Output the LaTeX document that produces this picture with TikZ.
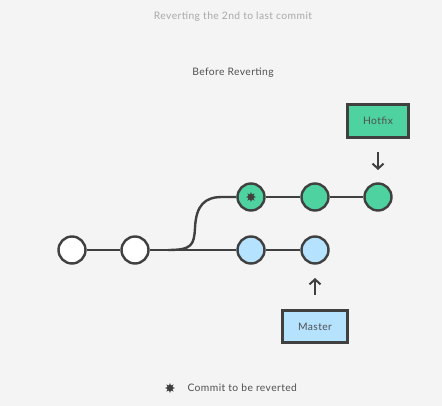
\documentclass[tikz,border=0pt]{standalone}
\usepackage{fontspec}
\setmainfont{Lato}[LetterSpace=4]
\usetikzlibrary{shapes.geometric,arrows.meta}
\definecolor{bg}{HTML}{F4F4F4}
\definecolor{ink}{HTML}{404040}
\definecolor{txt}{HTML}{505050}
\definecolor{grn}{HTML}{4DD2A0}
\definecolor{blu}{HTML}{B5E2FF}
\definecolor{ttl}{HTML}{A8A8A8}
\begin{document}
\begin{tikzpicture}[x=1pt,y=-1pt,
  commit/.style={circle,draw=ink,line width=2.4pt,minimum size=27pt,inner sep=0pt},
  wcommit/.style={commit,fill=white},
  gcommit/.style={commit,fill=grn},
  bcommit/.style={commit,fill=blu},
  edge/.style={draw=ink,line width=2.4pt},
  ref/.style={draw=ink,line width=2.4pt,minimum width=60pt,minimum height=31pt,inner sep=0pt,font=\fontsize{10.3}{12}\selectfont,text=txt},
  pointer/.style={draw=ink,line width=2pt,-{Straight Barb[length=5pt,width=11pt,line width=2pt]}},
  lbl/.style={font=\fontsize{10.3}{12}\selectfont,text=txt}]
\fill[bg] (0,0) rectangle (442,406);
\useasboundingbox (0,0) rectangle (442,406);
\node[font=\fontsize{10.3}{12}\selectfont,text=ttl] (title) at (233,17) {Reverting the 2nd to last commit};
\node[lbl] (before) at (233,73) {Before Reverting};
% commits
\node[wcommit] (c1) at (72,250) {};
\node[wcommit] (c2) at (135,250) {};
\node[bcommit] (b1) at (251,250) {};
\node[bcommit] (b2) at (315,250) {};
\node[gcommit] (g1) at (251,197) {};
\node[gcommit] (g2) at (315,197) {};
\node[gcommit] (g3) at (378,197) {};
\coordinate (fork) at (168,250);
\coordinate (join) at (222,197);
\path[edge] (c1) -- (c2);
\path[edge] (c2) -- (b1);
\path[edge] (b1) -- (b2);
\path[edge] (g1) -- (g2);
\path[edge] (g2) -- (g3);
\path[edge] (fork) .. controls (192,250) and (194,245) .. (195,228) .. controls (196,205) and (205,197) .. (join) -- (g1);
% asterisk in g1
\node[star,star points=8,star point ratio=1.9,fill=ink,minimum size=10pt,inner sep=0pt] (ast) at (251,197) {};
% refs
\node[ref,fill=grn,minimum width=61pt,minimum height=33pt] (hotfix) at (378,121) {Hotfix};
\node[ref,fill=blu,minimum width=65pt,minimum height=32pt] (master) at (315,326.5) {Master};
\coordinate (ht) at (378,152);
\coordinate (hb) at (378,170);
\coordinate (mt) at (315,278);
\coordinate (mb) at (315,295);
\path[pointer] (ht) -- (hb);
\path[pointer] (mb) -- (mt);
% legend
\node[star,star points=8,star point ratio=1.9,fill=ink,minimum size=10pt,inner sep=0pt] (last) at (170,388) {};
\node[lbl,anchor=west] (legend) at (184,388) {Commit to be reverted};
\end{tikzpicture}
\end{document}
